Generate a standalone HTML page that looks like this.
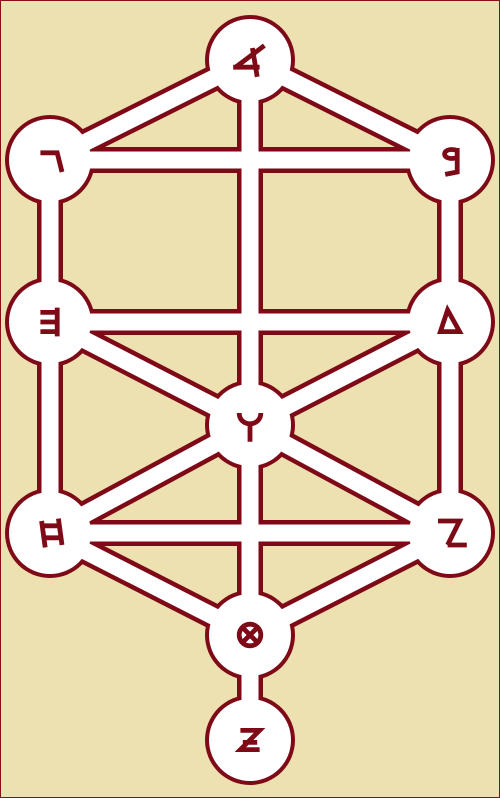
<!DOCTYPE html>
<html><head><meta charset="utf-8"><style>
html,body{margin:0;padding:0;background:#ede0b1;}
svg{display:block}
</style></head><body>
<svg width="500" height="798" viewBox="0 0 500 798">
<rect x="0.5" y="0.5" width="499" height="797" fill="#ede0b1" stroke="#8a0f1c" stroke-width="1"/>
<g id="outline" stroke="#7f0a17" fill="#7f0a17"></g>
<g id="inner" stroke="#fff" fill="#fff"></g>
<g id="letters" stroke="#7f0a17" fill="none" stroke-width="4" stroke-linecap="butt"></g>
</svg>
<script>
const nodeNames=['aleph','gimel','bet','he','dalet','waw','het','zayin','tet','yod'];
const nodeX=[250,50,450,50,450,250,50,450,250,250];
const nodeY=[60,160,160,322,322,425,533,533,635,740];
const edges=[[0,1],[0,2],[1,2],[0,5],[1,3],[3,6],[2,4],[4,7],[3,4],[3,5],[4,5],[5,6],[5,7],[6,7],[6,8],[7,8],[5,8],[8,9]];
const NS='http://www.w3.org/2000/svg';
const outline=document.getElementById('outline'),inner=document.getElementById('inner');
function line(g,a,b,w){const l=document.createElementNS(NS,'line');
l.setAttribute('x1',nodeX[a]);l.setAttribute('y1',nodeY[a]);l.setAttribute('x2',nodeX[b]);l.setAttribute('y2',nodeY[b]);
l.setAttribute('stroke-width',w);


g.appendChild(l);}
function circ(g,i,r){const c=document.createElementNS(NS,'circle');
c.setAttribute('cx',nodeX[i]);c.setAttribute('cy',nodeY[i]);c.setAttribute('r',r);c.setAttribute('stroke','none');


g.appendChild(c);}
edges.forEach(e=>{line(outline,e[0],e[1],26);line(inner,e[0],e[1],17);});
nodeX.forEach((x,i)=>{circ(outline,i,45);circ(inner,i,41);});
const glyphs={
aleph:'M-12,6 L12,-12 M-14,6 L8,6 M2,-10 L6,14',
gimel:'M-8,-6 L6,-6 L10,10',
bet:'M6,-10 L6,10 L-4,12 M6,-2 C-8,2 -8,-12 6,-8',
he:'M-8,-8 L8,-8 M-8,0 L8,0 M-8,8 L8,8 M6,-12 L6,12',
dalet:'M-8,8 L8,8 L-2,-10 Z',
waw:'M-9,-10 C-9,2 9,2 9,-10 M0,-3 L0,14',
het:'M-7,-10 L-4,12 M7,-12 L10,10 M-6,-6 L8,-6 M-5,4 L9,4',
zayin:'M-10,-10 L8,-10 L-2,10 M-2,10 L14,10',
tet:'M-9,0 A9,9 0 1 0 9,0 A9,9 0 1 0 -9,0 M-6,-6 L6,6 M6,-6 L-6,6',
yod:'M-8,-8 L8,-8 L-8,8 L8,8 M-6,2 L6,2'};
const lg=document.getElementById('letters');
nodeNames.forEach((n,i)=>{const p=document.createElementNS(NS,'path');
p.setAttribute('d',glyphs[n]);p.setAttribute('transform','translate('+nodeX[i]+','+nodeY[i]+') scale(1.2)');


lg.appendChild(p);});
</script>
</body></html>
